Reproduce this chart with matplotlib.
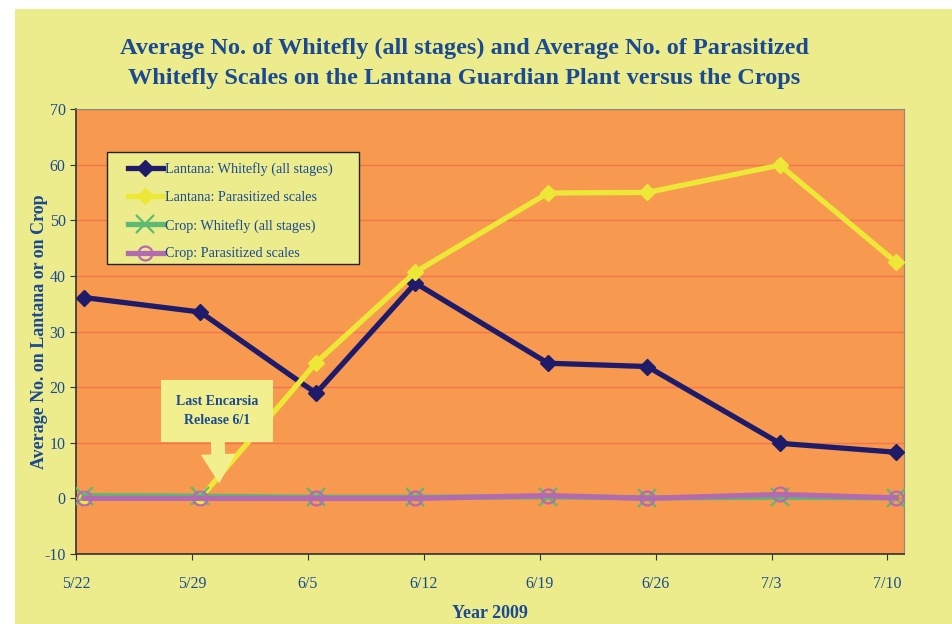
import matplotlib.pyplot as plt
from matplotlib.patches import Rectangle

plt.rcParams['axes.unicode_minus'] = False

# data (days counted from 5/22, points sit in the middle of the day)
tick_days = [0, 7, 14, 21, 28, 35, 42, 49]
tick_labels = ['5/22', '5/29', '6/5', '6/12', '6/19', '6/26', '7/3', '7/10']
sample_days = [0, 7, 14, 20, 28, 34, 42, 49]

lantana_whitefly = [36.1, 33.5, 18.9, 38.7, 24.3, 23.7, 9.9, 8.3]
lantana_parasitized = [0, 0, 24.4, 40.7, 54.9, 55.0, 59.9, 42.5]
crop_whitefly = [0.5, 0.4, 0.2, 0.2, 0.3, 0.1, 0.2, 0.1]
crop_parasitized = [0, 0, 0, 0, 0.5, 0, 0.7, 0.1]

blue_txt = '#1B4A94'
fig_bg = '#ECEC8C'
plot_bg = '#F7994E'
serif = 'Liberation Serif'

fig = plt.figure(figsize=(9.52, 6.24), dpi=100)
fig.patch.set_facecolor('white')
# yellow chart area with white border on left and top
fig.patches.append(Rectangle((15/952, 0), 1 - 15/952, 1 - 9/624,
                             transform=fig.transFigure, facecolor=fig_bg,
                             edgecolor='none', zorder=-10))

ax = fig.add_axes([76/952, 70/624, 828/952, 445/624])
ax.set_facecolor(plot_bg)

x = [d + 0.5 for d in sample_days]
ax.plot(x, lantana_whitefly, color='#1E1B6B', lw=3.8, marker='D', ms=8,
        label='Lantana: Whitefly (all stages)', zorder=3)
ax.plot(x, lantana_parasitized, color='#EDE838', lw=3.8, marker='D', ms=8,
        label='Lantana: Parasitized scales', zorder=4)
ax.plot(x, crop_whitefly, color='#5CBA72', lw=3.8, marker='x', ms=13, mew=1.6,
        label='Crop: Whitefly (all stages)', zorder=5)
ax.plot(x, crop_parasitized, color='#B26BB0', lw=3.8, marker='o', ms=10,
        mfc='none', mew=1.6, label='Crop: Parasitized scales', zorder=6)

ax.set_xlim(0, 50)
ax.set_ylim(-10, 70)
ax.set_yticks(range(-10, 71, 10))
ax.set_xticks(tick_days)
ax.set_xticklabels(tick_labels)
ax.yaxis.grid(True, color='#F2764D', lw=1)
ax.set_axisbelow(True)
ax.tick_params(axis='both', colors='#333333', labelcolor=blue_txt,
               labelsize=11.5, length=4)
ax.tick_params(axis='x', pad=12)
for lab in ax.get_xticklabels() + ax.get_yticklabels():
    lab.set_fontfamily(serif)
for s in ['top', 'right']:
    ax.spines[s].set_color('#888888')
for s in ['left', 'bottom']:
    ax.spines[s].set_color('#333333')
    ax.spines[s].set_linewidth(1.2)

ax.set_ylabel('Average No. on Lantana or on Crop', fontsize=13,
              fontweight='bold', color=blue_txt, family=serif, labelpad=-3)
ax.set_xlabel('Year 2009', fontsize=13, fontweight='bold', color=blue_txt,
              family=serif, labelpad=9)

fig.text(0.488, 0.898, 'Average No. of Whitefly (all stages) and Average No. of Parasitized\n'
         'Whitefly Scales on the Lantana Guardian Plant versus the Crops',
         ha='center', va='center', fontsize=17.5, fontweight='bold',
         color=blue_txt, family=serif, linespacing=1.55)

# legend box drawn separately so the padding can match
ax.add_patch(Rectangle((0.0374, 0.6517), 0.3043, 0.2517, transform=ax.transAxes,
                       facecolor=fig_bg, edgecolor='#222222', lw=1.0, zorder=8))
leg = ax.legend(loc='upper left', bbox_to_anchor=(0.0628, 0.881),
                prop={'family': serif, 'size': 10.2}, frameon=False,
                borderpad=0, labelspacing=1.05, handlelength=2.45,
                handletextpad=0.15, borderaxespad=0)
leg.set_zorder(9)
for t in leg.get_texts():
    t.set_color(blue_txt)

ax.annotate('Last Encarsia\nRelease 6/1', xy=(8.65, 2.7), xytext=(8.5, 15.7),
            ha='center', va='center', fontsize=10, fontweight='bold',
            color=blue_txt, family=serif, linespacing=1.6,
            bbox=dict(boxstyle='square,pad=1.05', fc='#F2F08E', ec='none'),
            arrowprops=dict(arrowstyle='simple,head_width=2.5,head_length=2.1,tail_width=1.0',
                            fc='#F2F08E', ec='none', shrinkA=0, shrinkB=0),
            zorder=10)

fig.savefig('out.png', dpi=100)
